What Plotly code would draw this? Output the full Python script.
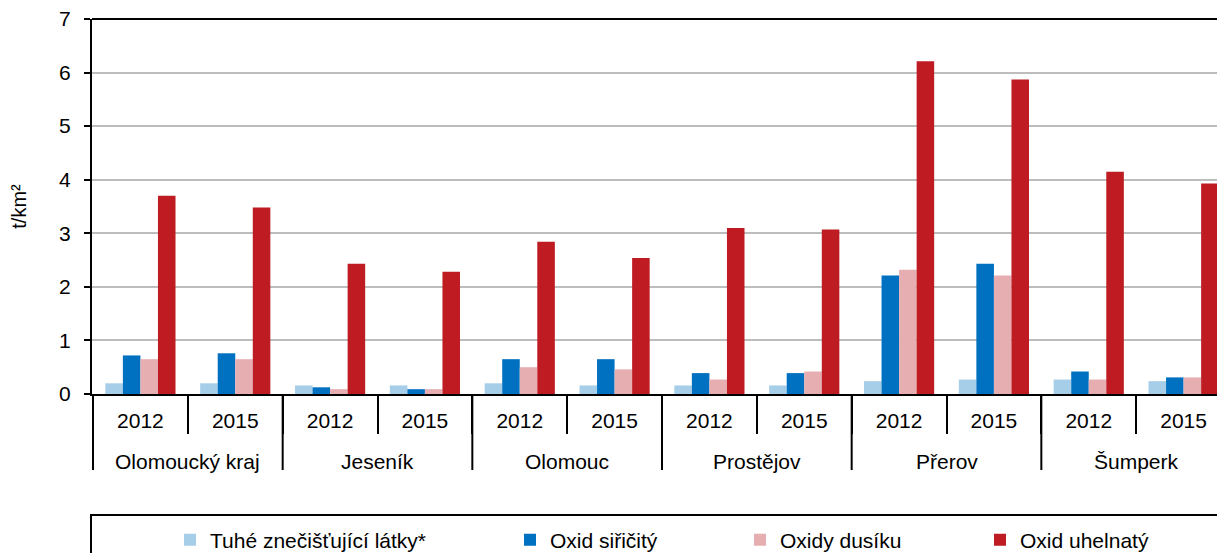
import plotly.graph_objects as go

regions = ["Olomoucký kraj", "Jeseník", "Olomouc", "Prostějov", "Přerov", "Šumperk"]
years = ["2012", "2015"]

series_names = ["Tuhé znečišťující látky*", "Oxid siřičitý", "Oxidy dusíku", "Oxid uhelnatý"]
tuhe = [0.20, 0.20, 0.16, 0.16, 0.20, 0.16, 0.16, 0.16, 0.24, 0.27, 0.27, 0.24]
so2 = [0.72, 0.76, 0.125, 0.09, 0.65, 0.65, 0.39, 0.39, 2.21, 2.43, 0.42, 0.31]
nox = [0.65, 0.65, 0.09, 0.09, 0.50, 0.46, 0.27, 0.42, 2.32, 2.21, 0.27, 0.31]
co = [3.70, 3.48, 2.43, 2.28, 2.84, 2.54, 3.10, 3.07, 6.21, 5.87, 4.15, 3.93]
colors = ["#A6CEE8", "#0070C0", "#E6AEB1", "#BE1B23"]

cats = [f"{r} {y}" for r in regions for y in years]
cat_years = [y for _ in regions for y in years]

FONT = "Liberation Sans, Arial, sans-serif"

# the page body has an 8px margin: work in page pixels and convert
OFF = 8
W, H = 1225, 553
plot_left, plot_top, plot_bottom, plot_right = 92, 19, 394, 1232
L = plot_left - OFF
T = plot_top - OFF
B = H - (plot_bottom - OFF)
R = W - (plot_right - OFF)
pw = W - L - R
ph = H - T - B

def px_to_paper_x(px):
    return (px - OFF - L) / pw

def px_to_paper_y(py):
    return (H - B - (py - OFF)) / ph

fig = go.Figure()
legend_ids = ["legend", "legend2", "legend3", "legend4"]
for name, vals, col, lid in zip(series_names, [tuhe, so2, nox, co], colors, legend_ids):
    fig.add_trace(go.Bar(
        x=cats, y=vals, name=name,
        marker=dict(color=col, line=dict(width=0)),
        legend=lid,
    ))

text_starts = [210, 550, 780, 1020]
leg_y = px_to_paper_y(540)
legends = {}
for lid, ts in zip(legend_ids, text_starts):
    legends[lid] = dict(
        x=px_to_paper_x(ts - 40), xanchor="left",
        y=leg_y, yanchor="middle",
        orientation="h", bgcolor="rgba(0,0,0,0)",
        font=dict(family=FONT, size=21, color="#000"),
    )

fig.update_layout(
    width=W, height=H,
    margin=dict(l=L, r=R, t=T, b=B, autoexpand=False),
    paper_bgcolor="white", plot_bgcolor="white",
    barmode="group", bargap=0.26, bargroupgap=0,
    font=dict(family=FONT, size=21, color="#000"),
    showlegend=True,
    **legends,
)

fig.update_xaxes(
    type="category", automargin=False,
    tickmode="array", tickvals=cats, ticktext=cat_years,
    showline=True, linecolor="black", linewidth=2,
    ticks="outside", ticklen=38, tickwidth=2, tickcolor="black",
    tickson="boundaries", ticklabelstandoff=7,
    tickfont=dict(family=FONT, size=21, color="#000"),
    showgrid=False,
)
fig.update_yaxes(
    range=[0, 7], dtick=1, tick0=0, automargin=False,
    showline=True, linecolor="black", linewidth=2,
    ticks="outside", ticklen=6, tickwidth=2, tickcolor="black",
    ticklabelstandoff=9, ticklabeloverflow="allow",
    showgrid=True, gridcolor="#BDBDBD", gridwidth=1.5,
    tickfont=dict(family=FONT, size=21, color="#000"),
    title=dict(text="t/km²", font=dict(family=FONT, size=20, color="#000"), standoff=28),
    zeroline=False,
)

# top frame line of the plot area
fig.add_shape(
    type="line", xref="paper", yref="paper",
    x0=0, x1=1, y0=1, y1=1,
    line=dict(color="black", width=2),
)

# region labels and region dividers below the year labels
n_years = len(years)
for i, reg in enumerate(regions):
    fig.add_annotation(
        x=i * n_years + (n_years - 1) / 2, xref="x",
        y=px_to_paper_y(461), yref="paper", yanchor="middle",
        text=reg, showarrow=False,
        font=dict(family=FONT, size=21, color="#000"),
    )
for i in range(len(regions) + 1):
    xb = i * n_years - 0.5
    fig.add_shape(
        type="line", xref="x", yref="paper",
        x0=xb, x1=xb, y0=0, y1=px_to_paper_y(470),
        line=dict(color="black", width=2),
    )

# legend frame
fig.add_shape(
    type="rect", xref="paper", yref="paper",
    x0=px_to_paper_x(91), x1=px_to_paper_x(1240),
    y0=px_to_paper_y(515), y1=px_to_paper_y(570),
    line=dict(color="black", width=2), fillcolor="rgba(0,0,0,0)",
)

fig.write_html("out.html")
